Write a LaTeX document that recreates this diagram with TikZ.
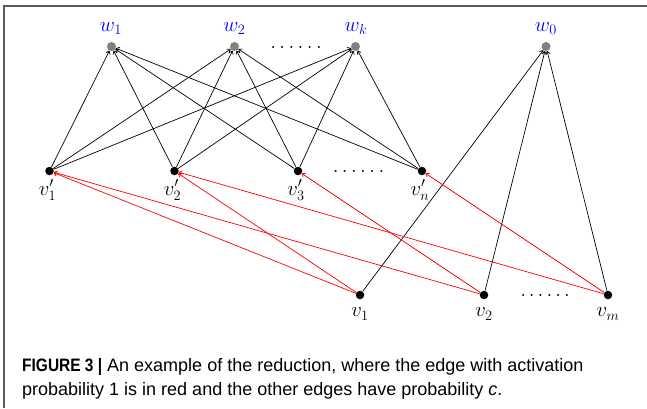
\documentclass[tikz,border=0pt]{standalone}
\usepackage{fontspec}
\setsansfont{Liberation Sans}
\newfontfamily\capbold[FakeStretch=0.86]{Liberation Sans}
\usetikzlibrary{arrows.meta}
\begin{document}
\begin{tikzpicture}[x=1pt,y=-1pt,
  bdot/.style={circle,fill=black,inner sep=0pt,minimum size=8.5pt},
  gdot/.style={circle,fill=gray,inner sep=0pt,minimum size=9pt},
  mlab/.style={inner sep=0pt,font=\huge},
  wlab/.style={mlab,text=blue},
  dotsrow/.style={inner sep=0pt,anchor=base,font=\Huge},
  blkedge/.style={-{To[length=3.5pt,width=5pt]},line width=0.7pt,black},
  rededge/.style={-{To[length=3.5pt,width=5pt]},line width=0.7pt,red},
  capt/.style={anchor=base west,inner sep=0pt,align=left,
    font=\sffamily\fontsize{18}{24}\selectfont}]
\useasboundingbox (0,0) rectangle (647,408);
\draw[black!65,line width=1.3pt] (4,408) -- (4,6) -- (647,6);

% top row
\node[gdot] (w1) at (111.5,46.5) {};
\node[gdot] (w2) at (234.5,46.5) {};
\node[gdot] (wk) at (355.5,46.5) {};
\node[gdot] (w0) at (546,46.5) {};
\node[wlab] (lw1) at (111,28.5) {$w_1$};
\node[wlab] (lw2) at (234.5,28.5) {$w_2$};
\node[wlab] (lwk) at (356,28.5) {$w_k$};
\node[wlab] (lw0) at (546,28.5) {$w_0$};
\node[dotsrow] (dw) at (296,48) {\makebox[52pt][s]{.\hfil.\hfil.\hfil.\hfil.\hfil.}};

% middle row
\node[bdot] (a1) at (49.5,171) {};
\node[bdot] (a2) at (174.5,171) {};
\node[bdot] (a3) at (298,171) {};
\node[bdot] (an) at (422,171) {};
\node[mlab] (la1) at (47.5,190) {$v'_1$};
\node[mlab] (la2) at (172.5,190) {$v'_2$};
\node[mlab] (la3) at (296,190) {$v'_3$};
\node[mlab] (lan) at (420,190) {$v'_n$};
\node[dotsrow] (da) at (358.5,172.5) {\makebox[52pt][s]{.\hfil.\hfil.\hfil.\hfil.\hfil.}};

% bottom row
\node[bdot] (v1) at (360,295) {};
\node[bdot] (v2) at (484,295) {};
\node[bdot] (vm) at (608,295) {};
\node[mlab] (lv1) at (360,314) {$v_1$};
\node[mlab] (lv2) at (484,314) {$v_2$};
\node[mlab] (lvm) at (608,314) {$v_m$};
\node[dotsrow] (dv) at (545,296.5) {\makebox[50pt][s]{.\hfil.\hfil.\hfil.\hfil.\hfil.}};

% black edges
\foreach \a in {a1,a2,a3,an}{
  \foreach \w in {w1,w2,wk}{
    \draw[blkedge] (\a) -- (\w);
  }
}
\foreach \v in {v1,v2,vm}{
  \draw[blkedge] (\v) -- (w0);
}

% red edges
\draw[rededge] (v1) -- (a1);
\draw[rededge] (v1) -- (a2);
\draw[rededge] (v2) -- (a1);
\draw[rededge] (v2) -- (a3);
\draw[rededge] (vm) -- (a2);
\draw[rededge] (vm) -- (an);

% caption
\node[capt] (cap) at (22,395) {{\capbold\bfseries FIGURE 3 |} An example of the reduction, where the edge with activation\\probability 1 is in red and the other edges have probability \textit{c}.};
\end{tikzpicture}
\end{document}
